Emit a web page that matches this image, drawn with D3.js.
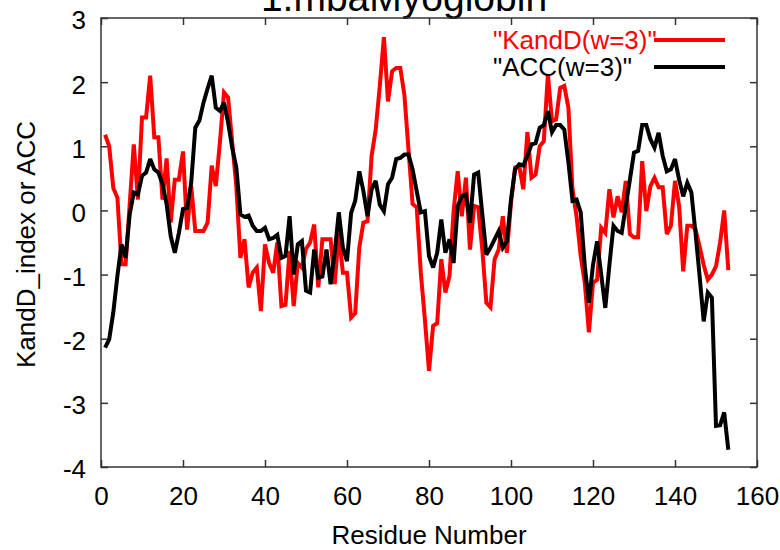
<!DOCTYPE html>
<html>
<head>
<meta charset="utf-8">
<script src="https://cdn.jsdelivr.net/npm/d3@7"></script>
<style>
  html, body { margin: 0; padding: 0; background: #fff; }
  svg { display: block; }
  text { font-family: "Liberation Sans", Arial, sans-serif; }
</style>
</head>
<body>
<svg id="chart" width="780" height="550"></svg>
<script>
const title = "1.mbaMyoglobin";
const xLabel = "Residue Number";
const yLabel = "KandD_index or ACC";
const seriesNames = ['"KandD(w=3)"', '"ACC(w=3)"'];
const seriesColors = ["#ff0000", "#000000"];
const xTicks = [0, 20, 40, 60, 80, 100, 120, 140, 160];
const yTicks = [-4, -3, -2, -1, 0, 1, 2, 3];

const residues = d3.range(1, 154);

const kandd = [
  1.18, 1.0, 0.35, 0.2, -0.84, -0.84, 0.1, 1.03, 0.17, 1.45,
  1.45, 2.1, 1.14, 1.14, 0.17, 0.81, -0.19, 0.48, 0.48, 0.92,
  -0.3, 0.38, -0.32, -0.32, -0.32, -0.19, 0.7, 0.38, 1.06, 1.84,
  1.76, 1.06, 0.38, -0.74, -0.45, -1.2, -0.97, -0.89, -1.57, -0.53,
  -0.82, -0.97, -0.5, -1.49, -1.47, -0.63, -1.49, -0.82, -0.89, -0.6,
  -0.5, -0.22, -1.2, -0.45, -0.45, -0.45, -1.15, -0.35, -0.97, -0.97,
  -1.67, -1.6, -0.58, -0.19, -0.17, 0.85, 1.26, 1.94, 2.7, 1.7,
  2.17, 2.22, 2.22, 1.8, 0.95, 0.1, 0.05, -0.97, -1.7, -2.5,
  -1.8, -1.76, -0.76, -1.28, -1.02, -0.01, 0.61, -0.09, 0.51, -0.61,
  0.07, 0.05, -0.61, -1.44, -1.51, -0.76, -0.61, -0.09, -0.66, 0.12,
  0.67, 0.69, 0.33, 1.22, 0.51, 0.56, 1.0, 1.08, 2.12, 1.39,
  1.42, 1.91, 1.94, 1.6, 0.33, -0.1, -0.71, -1.13, -1.9, -1.13,
  -1.08, -0.27, -0.35, 0.33, -0.11, 0.22, -0.03, 0.46, -0.37, -0.42,
  -0.42, 0.77, -0.01, 0.38, 0.51, 0.36, 0.36, -0.37, -0.24, 0.46,
  0.07, -0.95, -0.24, -0.24, -0.29, -0.56, -0.85, -1.08, -1.0, -0.87,
  -0.5, 0.0, -0.93
];

const acc = [
  -2.14, -2.01, -1.59, -1.02, -0.53, -0.74, -0.06, 0.28, 0.25, 0.54,
  0.59, 0.8, 0.64, 0.59, 0.41, 0.1, -0.4, -0.66, -0.35, 0.02,
  0.04, 0.43, 1.29, 1.4, 1.68, 1.9, 2.1, 1.6, 1.55, 1.68,
  1.37, 0.98, 0.67, -0.06, -0.1, -0.08, -0.24, -0.32, -0.32, -0.27,
  -0.45, -0.43, -0.38, -0.74, -0.71, -0.09, -1.0, -0.53, -0.48, -1.25,
  -1.28, -0.61, -1.05, -1.03, -0.61, -1.15, -0.66, -0.03, -0.58, -0.79,
  -0.04, 0.15, 0.61, 0.3, -0.09, 0.33, 0.46, 0.09, -0.01, 0.41,
  0.51, 0.8, 0.82, 0.87, 0.87, 0.64, 0.3, -0.03, -0.01, -0.71,
  -0.89, -0.66, -0.14, -0.66, -0.45, -0.82, 0.07, 0.22, 0.25, -0.19,
  0.56, 0.59, -0.06, -0.69, -0.58, -0.45, -0.32, -0.58, -0.48, 0.17,
  0.64, 0.72, 0.7, 0.85, 1.03, 1.05, 1.29, 1.33, 1.55, 1.22,
  1.33, 1.33, 1.26, 0.75, 0.15, 0.17, -0.03, -0.87, -1.44, -0.85,
  -0.48, -1.0, -1.52, -0.85, -0.24, -0.32, -0.35, 0.07, 0.48, 0.9,
  0.93, 1.33, 1.33, 1.11, 0.98, 1.21, 0.85, 0.61, 0.64, 0.8,
  0.48, 0.22, 0.43, 0.28, -0.35, -1.02, -1.73, -1.28, -1.36, -3.36,
  -3.35, -3.15, -3.73
];

const series = [kandd, acc];

const svg = d3.select("#chart");
const mL = 101, mR = 757, mT = 18, mB = 467;
const fs = 26;
const fmt = d => String(d);

const x = d3.scaleLinear().domain([0, 160]).range([mL, mR]);
const y = d3.scaleLinear().domain([-4, 3]).range([mB, mT]);

// Title (partially clipped at top, as in reference)
svg.append("text")
  .attr("x", 404).attr("y", 11)
  .attr("text-anchor", "middle")
  .attr("font-size", 39)
  .attr("fill", "#000")
  .text(title);

// axes with inward ticks
const gx = svg.append("g").attr("transform", `translate(0,${mB})`)
  .call(d3.axisBottom(x).tickValues(xTicks).tickSize(-7).tickPadding(20).tickFormat(fmt));
const gxt = svg.append("g").attr("transform", `translate(0,${mT})`)
  .call(d3.axisTop(x).tickValues(xTicks).tickSize(-7).tickFormat(""));
const gy = svg.append("g").attr("transform", `translate(${mL},0)`)
  .call(d3.axisLeft(y).tickValues(yTicks).tickSize(-7).tickPadding(15).tickFormat(fmt));
const gyr = svg.append("g").attr("transform", `translate(${mR},0)`)
  .call(d3.axisRight(y).tickValues(yTicks).tickSize(-7).tickFormat(""));

[gx, gxt, gy, gyr].forEach(g => {
  g.select(".domain").remove();
  g.selectAll(".tick line").attr("stroke", "#333").attr("stroke-width", 1.5);
  g.selectAll("text").attr("font-size", fs).attr("fill", "#000")
    .attr("font-family", '"Liberation Sans", Arial, sans-serif');
});
gy.selectAll("text").attr("dy", "0.42em");

// frame
svg.append("rect")
  .attr("x", mL).attr("y", mT)
  .attr("width", mR - mL).attr("height", mB - mT)
  .attr("fill", "none").attr("stroke", "#333").attr("stroke-width", 1.5);

// clip
svg.append("clipPath").attr("id", "clip")
  .append("rect").attr("x", mL).attr("y", mT)
  .attr("width", mR - mL).attr("height", mB - mT);

const line = d3.line().x((d, i) => x(residues[i])).y(d => y(d));

const plotG = svg.append("g").attr("clip-path", "url(#clip)");
series.forEach((s, k) => {
  plotG.append("path")
    .datum(s)
    .attr("d", line)
    .attr("fill", "none")
    .attr("stroke", seriesColors[k])
    .attr("stroke-width", 4)
    .attr("stroke-linejoin", "miter")
    .attr("stroke-miterlimit", 3);
});

// legend
const legY = [40, 67];
seriesNames.forEach((name, k) => {
  svg.append("text")
    .attr("x", 493).attr("y", legY[k])
    .attr("dy", "0.35em")
    .attr("font-size", fs)
    .attr("fill", seriesColors[k])
    .text(name);
  svg.append("line")
    .attr("x1", 654).attr("x2", 725)
    .attr("y1", legY[k]).attr("y2", legY[k])
    .attr("stroke", seriesColors[k]).attr("stroke-width", 4);
});

// axis labels
svg.append("text")
  .attr("x", (mL + mR) / 2).attr("y", 544)
  .attr("text-anchor", "middle")
  .attr("font-size", fs).attr("fill", "#000")
  .text(xLabel);

svg.append("text")
  .attr("transform", `translate(35,${(mT + mB) / 2 + 2}) rotate(-90)`)
  .attr("text-anchor", "middle")
  .attr("font-size", fs).attr("fill", "#000")
  .text(yLabel);
</script>
</body>
</html>
